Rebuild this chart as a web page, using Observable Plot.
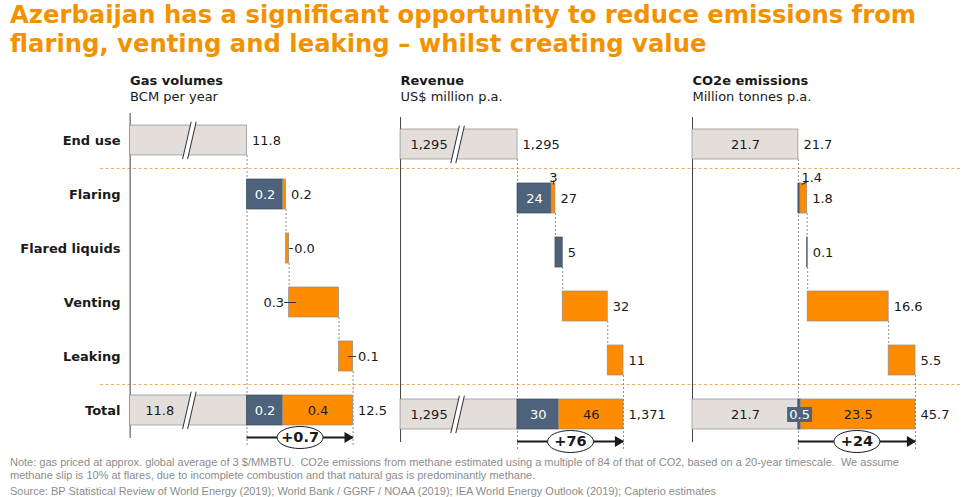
<!DOCTYPE html>
<html>
<head>
<meta charset="utf-8">
<script src="https://cdn.jsdelivr.net/npm/d3@7"></script>
<script src="https://cdn.jsdelivr.net/npm/@observablehq/plot@0.6"></script>
<style>
  html, body { margin: 0; padding: 0; background: #fff; }
  body { width: 974px; height: 497px; overflow: hidden; position: relative; font-family: "DejaVu Sans", sans-serif; }
  #title { position: absolute; left: 10px; top: 0; font-size: 24.3px; line-height: 29px; font-weight: bold; color: #f39200; white-space: nowrap; }
  .panel { position: absolute; top: 62px; }
  .panel svg { display: block; }
  .foot { position: absolute; left: 10px; font-family: "Liberation Sans", sans-serif; font-size: 11px; line-height: 13px; color: #8c8c8c; white-space: nowrap; }
  #note { top: 456px; }
  #source { top: 485px; }
</style>
</head>
<body>
<div id="title">Azerbaijan has a significant opportunity to reduce emissions from<br>flaring, venting and leaking – whilst creating value</div>
<div id="p0" class="panel"></div>
<div id="p1" class="panel"></div>
<div id="p2" class="panel"></div>
<div id="note" class="foot">Note: gas priced at approx. global average of 3 $/MMBTU.&nbsp; CO2e emissions from methane estimated using a multiple of 84 of that of CO2, based on a 20-year timescale.&nbsp; We assume<br>methane slip is 10% at flares, due to incomplete combustion and that natural gas is predominantly methane.</div>
<div id="source" class="foot">Source: BP Statistical Review of World Energy (2019); World Bank / GGRF / NOAA (2019); IEA World Energy Outlook (2019); Capterio estimates</div>
<script>
// ---------- DATA ----------
const rows = ["End use", "Flaring", "Flared liquids", "Venting", "Leaking", "Total"];
const steps = rows.slice(1, 5);

const panelTitles = ["Gas volumes", "Revenue", "CO2e emissions"];
const panelUnits = ["BCM per year", "US$ million p.a.", "Million tonnes p.a."];
const endUse = [11.8, 1295, 21.7];
// per step row: Flaring, Flared liquids, Venting, Leaking
const blueSteps = [[0.23, 0, 0, 0], [24.4, 5.2, 0, 0], [0.4, 0.1, 0, 0]];
const orangeSteps = [[0.02, 0.02, 0.32, 0.09], [2.8, 0, 32.3, 11.3], [1.4, 0, 16.6, 5.5]];
// labels per row (End use ... Total)
const outerLabels = [
  ["11.8", "0.2", "0.0", "0.3", "0.1", "12.5"],
  ["1,295", "27", "5", "32", "11", "1,371"],
  ["21.7", "1.8", "0.1", "16.6", "5.5", "45.7"]
];
const endUseInner = ["", "1,295", "21.7"];
const totalGrayInner = ["11.8", "1,295", "21.7"];
const flaringBlueInner = ["0.2", "24", ""];
const flaringOrangeTop = ["", "3", "1.4"];
const totalBlueInner = ["0.2", "30", "0.5"];
const totalOrangeInner = ["0.4", "46", "23.5"];
const deltaLabels = ["+0.7", "+76", "+24"];

// ---------- LAYOUT / STYLE ----------
const layout = [
  {width: 390, left: 0, marginLeft: 100, marginRight: 0, marginTop: 51, marginBottom: 15,
   domain: [10.86, 12.72], axisStart: 11.05, breakAt: 11.43, sepDy: 28,
   leftRows: ["Venting"], leaders: [
     {row: "Flared liquids", at: "end", dx: 0, len: 4},
     {row: "Venting", at: "start", dx: -5, len: 12},
     {row: "Leaking", at: "end", dx: -5, len: 8}]},
  {width: 292, left: 390, marginLeft: 0, marginRight: 0, marginTop: 55, marginBottom: 11,
   domain: [1203.9, 1413.3], axisStart: 1211.1, breakAt: 1252, sepDy: 24,
   leftRows: [], leaders: [], topLabel: {dx: 0, dy: -21, lx: 0, ldy: -14, rot: 0, len: 4}},
  {width: 292, left: 682, marginLeft: 0, marginRight: 14, marginTop: 55, marginBottom: 11,
   domain: [-2.05, 54.92], axisStart: 0, breakAt: null, sepDy: 24,
   leftRows: [], leaders: [], topLabel: {dx: 8, dy: -21, lx: -2, ldy: -14, rot: 62, len: 7}, boxBlue: true}
];
const colors = {gray: "#e4dedb", blue: "#4f627c", orange: "#ff8c00"};
const dark = "#1a1a1a";
const H = 391;

const ellipse = {draw(ctx) {
  const rx = 23, ry = 11, k = 0.5523;
  ctx.moveTo(rx, 0);
  ctx.bezierCurveTo(rx, ry * k, rx * k, ry, 0, ry);
  ctx.bezierCurveTo(-rx * k, ry, -rx, ry * k, -rx, 0);
  ctx.bezierCurveTo(-rx, -ry * k, -rx * k, -ry, 0, -ry);
  ctx.bezierCurveTo(rx * k, -ry, rx, -ry * k, rx, 0);
  ctx.closePath();
}};
const box = {draw(ctx) { ctx.rect(-12.5, -7.5, 25, 15); }};

function buildPanel(i) {
  const L = layout[i];
  const E = endUse[i], B = blueSteps[i], O = orangeSteps[i];
  const bars = [], info = [];
  bars.push({row: "End use", x1: L.axisStart, x2: E, kind: "gray"});
  let c = E;
  steps.forEach((r, j) => {
    const s = c;
    if (B[j] > 0) { bars.push({row: r, x1: c, x2: c + B[j], kind: "blue"}); c += B[j]; }
    const bEnd = c;
    if (O[j] > 0) { bars.push({row: r, x1: c, x2: c + O[j], kind: "orange"}); c += O[j]; }
    info.push({row: r, start: s, blueEnd: bEnd, end: c});
  });
  const sb = d3.sum(B), so = d3.sum(O), end = E + sb + so;
  bars.push({row: "Total", x1: L.axisStart, x2: E, kind: "gray"});
  bars.push({row: "Total", x1: E, x2: E + sb, kind: "blue"});
  bars.push({row: "Total", x1: E + sb, x2: end, kind: "orange"});

  const rowStart = [L.axisStart, ...info.map(d => d.start), L.axisStart];
  const rowEnd = [E, ...info.map(d => d.end), end];

  const outer = rows.map((r, k) => {
    const left = L.leftRows.includes(r);
    return {row: r, x: left ? rowStart[k] : rowEnd[k], text: outerLabels[i][k], left};
  });

  const grayMid = L.breakAt != null ? (L.axisStart + L.breakAt) / 2 : (L.axisStart + E) / 2;
  const inner = [];
  if (endUseInner[i]) inner.push({row: "End use", x: grayMid, text: endUseInner[i], fill: dark});
  if (totalGrayInner[i]) inner.push({row: "Total", x: grayMid, text: totalGrayInner[i], fill: dark});
  if (flaringBlueInner[i]) inner.push({row: "Flaring", x: (info[0].start + info[0].blueEnd) / 2, text: flaringBlueInner[i], fill: "white"});
  inner.push({row: "Total", x: E + sb / 2, text: totalBlueInner[i], fill: "white"});
  inner.push({row: "Total", x: E + sb + so / 2, text: totalOrangeInner[i], fill: dark});

  const conn = info.slice(1).map(d => ({x: d.start, row: d.row}));

  const breaks = L.breakAt != null ? [{row: "End use"}, {row: "Total"}] : [];
  const mid = (E + end) / 2;
  const T = L.topLabel;
  const topX = (info[0].blueEnd + info[0].end) / 2;

  const textBase = {fontFamily: "DejaVu Sans", fontSize: 13};
  const lineStyle = {r: 0.01, stroke: "#333", strokeWidth: 1, strokeLinecap: "butt"};

  const marks = [
    Plot.ruleY(["End use", "Leaking"], {y: d => d, dy: L.sepDy, stroke: "#f2ac5e", strokeDasharray: "3,2.5", strokeWidth: 1}),
    Plot.ruleX([L.axisStart], {stroke: "#444", strokeWidth: 1}),
    Plot.ruleX([E], {x: d => d, y1: () => "Flaring", y2: () => "Total", insetTop: -24, insetBottom: -20, stroke: "#8f8f8f", strokeDasharray: "2,2"}),
    Plot.ruleX([end], {x: d => d, y1: () => "Total", y2: () => "Total", insetTop: -24, insetBottom: -20, stroke: "#8f8f8f", strokeDasharray: "2,2"}),
    Plot.ruleX(conn, {x: "x", y1: "row", y2: "row", insetTop: -24, insetBottom: 30, stroke: "#8f8f8f", strokeDasharray: "2,2"}),
    Plot.barX(bars, {y: "row", x1: "x1", x2: "x2", fill: d => colors[d.kind], stroke: d => d.kind === "blue" ? "#3b4a5e" : "#8c8c8c", strokeWidth: 0.7}),
    Plot.vector(breaks, {x: () => L.breakAt, y: "row", length: 38, rotate: 13, anchor: "middle", ...lineStyle, stroke: "white", strokeWidth: 5}),
    Plot.vector(breaks, {x: () => L.breakAt, y: "row", dx: -2.5, length: 38, rotate: 13, anchor: "middle", ...lineStyle}),
    Plot.vector(breaks, {x: () => L.breakAt, y: "row", dx: 2.5, length: 38, rotate: 13, anchor: "middle", ...lineStyle}),
  ];
  // leaders (one mark each, since dx is a constant option)
  for (const ld of L.leaders) {
    const k = rows.indexOf(ld.row);
    const lx = ld.at === "end" ? rowEnd[k] : rowStart[k];
    marks.push(Plot.vector([ld], {x: () => lx, y: () => ld.row, dx: ld.dx, length: ld.len, rotate: 90, anchor: "start", ...lineStyle}));
  }
  marks.push(
    Plot.text(outer.filter(d => !d.left), {x: "x", y: "row", text: "text", dx: 5, textAnchor: "start", fill: dark, ...textBase}),
    Plot.text(outer.filter(d => d.left), {x: "x", y: "row", text: "text", dx: -5, textAnchor: "end", fill: dark, ...textBase})
  );
  if (L.boxBlue) {
    marks.push(Plot.dot([0], {x: () => E + sb / 2, y: () => "Total", symbol: box, r: 5, fill: colors.blue, stroke: "none"}));
  }
  marks.push(Plot.text(inner, {x: "x", y: "row", text: "text", fill: "fill", textAnchor: "middle", ...textBase}));
  if (T && flaringOrangeTop[i]) {
    marks.push(Plot.vector([0], {x: () => topX, y: () => "Flaring", dx: T.lx, dy: T.ldy, length: T.len, rotate: T.rot, anchor: "start", ...lineStyle}));
    marks.push(Plot.text([flaringOrangeTop[i]], {x: () => topX, y: () => "Flaring", text: d => d, dx: T.dx, dy: T.dy, textAnchor: "middle", fill: dark, ...textBase}));
  }
  marks.push(
    Plot.ruleY([0], {y: () => "Total", x1: () => E, x2: () => end, dy: 27, stroke: dark, strokeWidth: 2}),
    Plot.dot([0], {x: () => end, y: () => "Total", dy: 27, dx: -5.5, symbol: "triangle", rotate: 90, r: 4, fill: dark, stroke: "none"}),
    Plot.dot([0], {x: () => mid, y: () => "Total", dy: 27, symbol: ellipse, r: 5, fill: "white", stroke: dark, strokeWidth: 1}),
    Plot.text([deltaLabels[i]], {x: () => mid, y: () => "Total", text: d => d, dy: 27, fontWeight: "bold", fill: dark, fontFamily: "DejaVu Sans", fontSize: 14.5}),
    Plot.text([panelTitles[i]], {x: () => L.axisStart, frameAnchor: "top", lineAnchor: "middle", dy: 18 - L.marginTop, text: d => d, textAnchor: "start", fontWeight: "bold", fill: dark, ...textBase}),
    Plot.text([panelUnits[i]], {x: () => L.axisStart, frameAnchor: "top", lineAnchor: "middle", dy: 34 - L.marginTop, text: d => d, textAnchor: "start", fill: dark, ...textBase})
  );
  if (i === 0) {
    marks.push(Plot.text(rows, {y: d => d, frameAnchor: "left", dx: 20, text: d => d, textAnchor: "end", fontWeight: "bold", fill: dark, ...textBase}));
  }

  const svg = Plot.plot({
    width: L.width, height: H,
    marginLeft: L.marginLeft, marginRight: L.marginRight, marginTop: L.marginTop, marginBottom: L.marginBottom,
    x: {domain: L.domain, axis: null},
    y: {domain: rows, axis: null, paddingInner: 0.444, paddingOuter: 0.222},
    style: {fontFamily: "DejaVu Sans", fontSize: "13px", color: dark, background: "transparent", overflow: "visible"},
    marks
  });
  const holder = document.getElementById("p" + i);
  holder.style.left = L.left + "px";
  holder.appendChild(svg);
}
[0, 1, 2].forEach(buildPanel);
</script>
</body>
</html>
